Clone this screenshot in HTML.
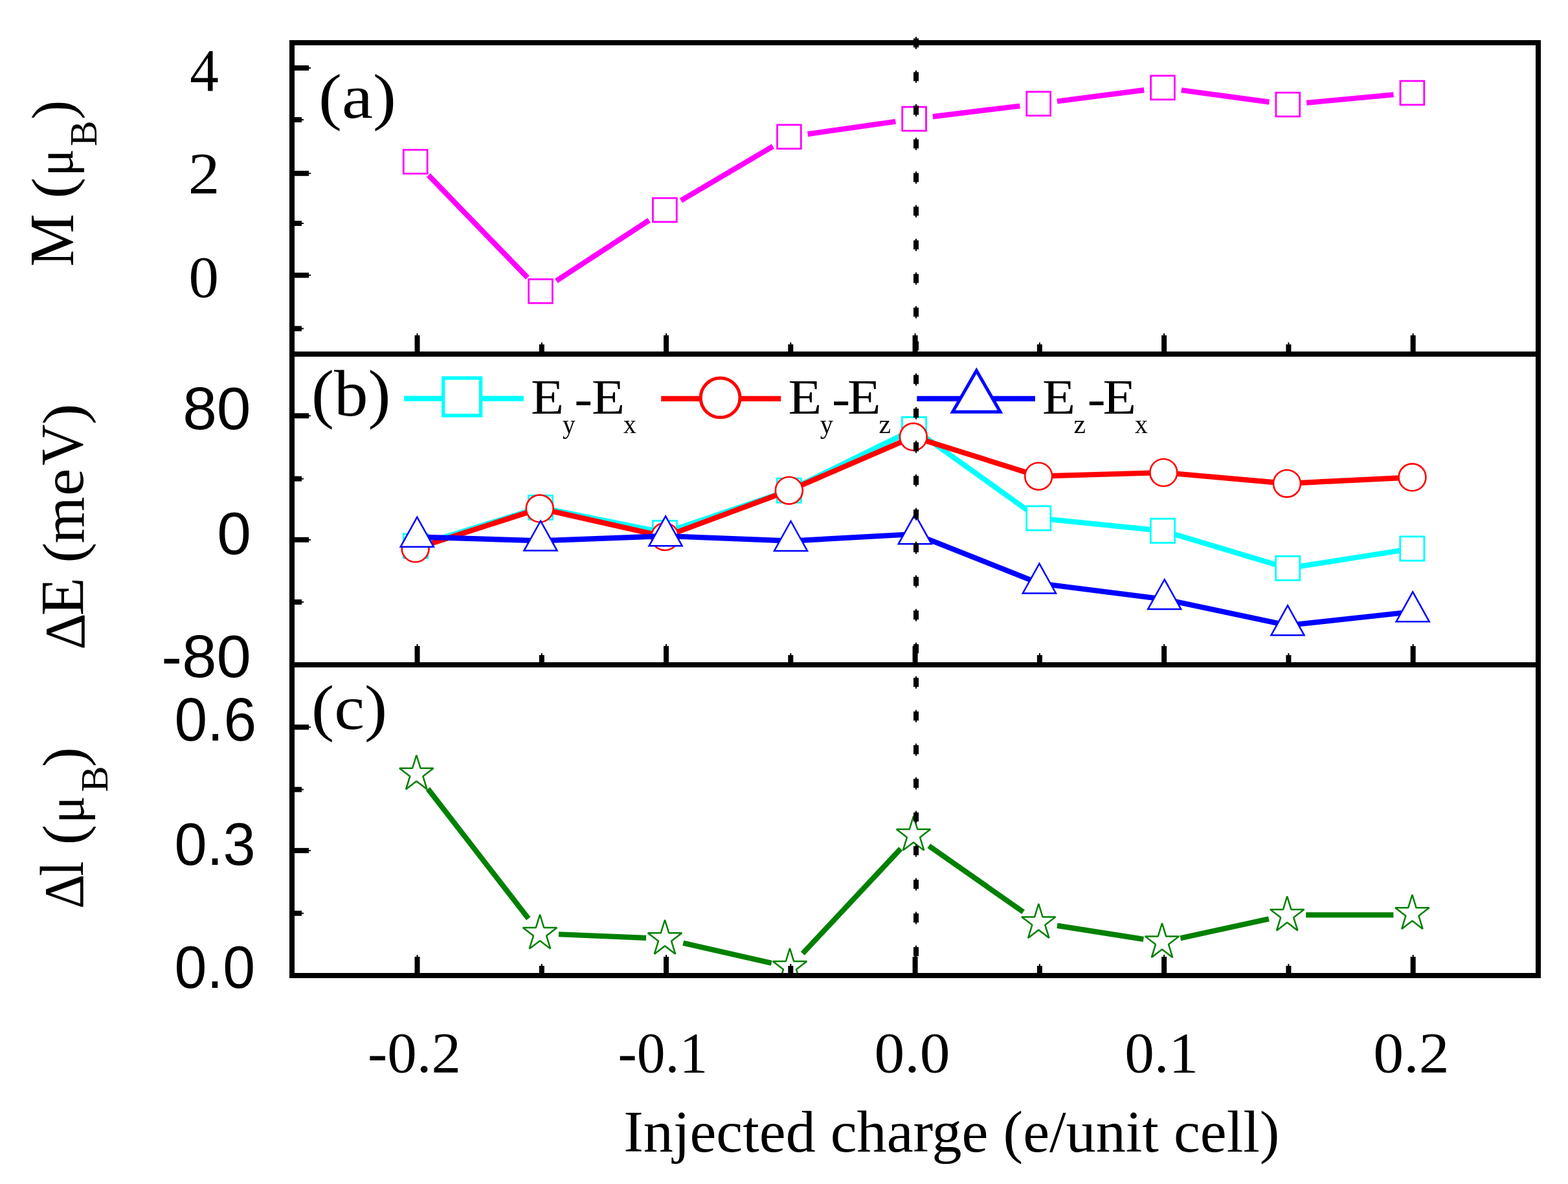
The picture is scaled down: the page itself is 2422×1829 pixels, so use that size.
<!DOCTYPE html><html><head><meta charset="utf-8"><title>Injected charge plot</title><style>html,body{margin:0;padding:0;background:#fff;overflow:hidden}svg{display:block}</style></head><body><svg width="2422" height="1829" viewBox="0 0 2422 1829">
<defs><clipPath id="cc"><rect x="451" y="1027" width="1925" height="480"/></clipPath></defs>
<rect x="0" y="0" width="2422" height="1829" fill="#fff"/>
<path d="M661.85,270.65L814.85,428.95" stroke="#ff00ff" stroke-width="8.20" fill="none"/>
<path d="M859.28,433.94L1002.62,340.26" stroke="#ff00ff" stroke-width="8.20" fill="none"/>
<path d="M1051.89,309.68L1193.91,226.02" stroke="#ff00ff" stroke-width="8.20" fill="none"/>
<path d="M1247.61,207.18L1383.39,187.72" stroke="#ff00ff" stroke-width="8.20" fill="none"/>
<path d="M1440.89,180.09L1575.41,163.71" stroke="#ff00ff" stroke-width="8.20" fill="none"/>
<path d="M1632.96,156.48L1767.24,139.12" stroke="#ff00ff" stroke-width="8.20" fill="none"/>
<path d="M1824.74,139.28L1960.56,157.62" stroke="#ff00ff" stroke-width="8.20" fill="none"/>
<path d="M2018.17,158.79L2152.53,146.21" stroke="#ff00ff" stroke-width="8.20" fill="none"/>
<rect x="623.30" y="231.40" width="36.80" height="36.80" fill="none" stroke="#ff00ff" stroke-width="2.8"/>
<rect x="816.60" y="431.40" width="36.80" height="36.80" fill="none" stroke="#ff00ff" stroke-width="2.8"/>
<rect x="1008.50" y="306.00" width="36.80" height="36.80" fill="none" stroke="#ff00ff" stroke-width="2.8"/>
<rect x="1200.50" y="192.90" width="36.80" height="36.80" fill="none" stroke="#ff00ff" stroke-width="2.8"/>
<rect x="1393.70" y="165.20" width="36.80" height="36.80" fill="none" stroke="#ff00ff" stroke-width="2.8"/>
<rect x="1585.80" y="141.80" width="36.80" height="36.80" fill="none" stroke="#ff00ff" stroke-width="2.8"/>
<rect x="1777.60" y="117.00" width="36.80" height="36.80" fill="none" stroke="#ff00ff" stroke-width="2.8"/>
<rect x="1970.90" y="143.10" width="36.80" height="36.80" fill="none" stroke="#ff00ff" stroke-width="2.8"/>
<rect x="2163.00" y="125.10" width="36.80" height="36.80" fill="none" stroke="#ff00ff" stroke-width="2.8"/>
<path d="M642.00,843.50L835.00,784.00" stroke="#00ffff" stroke-width="8.20" fill="none" stroke-linecap="round"/>
<path d="M835.00,784.00L1026.80,823.00" stroke="#00ffff" stroke-width="8.20" fill="none" stroke-linecap="round"/>
<path d="M1026.80,823.00L1218.80,757.70" stroke="#00ffff" stroke-width="8.20" fill="none" stroke-linecap="round"/>
<path d="M1218.80,757.70L1412.00,663.00" stroke="#00ffff" stroke-width="8.20" fill="none" stroke-linecap="round"/>
<path d="M1412.00,663.00L1604.20,800.50" stroke="#00ffff" stroke-width="8.20" fill="none" stroke-linecap="round"/>
<path d="M1604.20,800.50L1796.00,819.90" stroke="#00ffff" stroke-width="8.20" fill="none" stroke-linecap="round"/>
<path d="M1796.00,819.90L1989.20,877.80" stroke="#00ffff" stroke-width="8.20" fill="none" stroke-linecap="round"/>
<path d="M1989.20,877.80L2181.30,847.50" stroke="#00ffff" stroke-width="8.20" fill="none" stroke-linecap="round"/>
<rect x="623.40" y="824.90" width="37.20" height="37.20" fill="#fff" stroke="#00ffff" stroke-width="2.8"/>
<rect x="816.40" y="765.40" width="37.20" height="37.20" fill="#fff" stroke="#00ffff" stroke-width="2.8"/>
<rect x="1008.20" y="804.40" width="37.20" height="37.20" fill="#fff" stroke="#00ffff" stroke-width="2.8"/>
<rect x="1200.20" y="739.10" width="37.20" height="37.20" fill="#fff" stroke="#00ffff" stroke-width="2.8"/>
<rect x="1393.40" y="644.40" width="37.20" height="37.20" fill="#fff" stroke="#00ffff" stroke-width="2.8"/>
<rect x="1585.60" y="781.90" width="37.20" height="37.20" fill="#fff" stroke="#00ffff" stroke-width="2.8"/>
<rect x="1777.40" y="801.30" width="37.20" height="37.20" fill="#fff" stroke="#00ffff" stroke-width="2.8"/>
<rect x="1970.60" y="859.20" width="37.20" height="37.20" fill="#fff" stroke="#00ffff" stroke-width="2.8"/>
<rect x="2162.70" y="828.90" width="37.20" height="37.20" fill="#fff" stroke="#00ffff" stroke-width="2.8"/>
<path d="M641.60,847.30L833.70,785.60" stroke="#ff0000" stroke-width="8.20" fill="none" stroke-linecap="round"/>
<path d="M833.70,785.60L1027.00,829.00" stroke="#ff0000" stroke-width="8.20" fill="none" stroke-linecap="round"/>
<path d="M1027.00,829.00L1218.80,757.70" stroke="#ff0000" stroke-width="8.20" fill="none" stroke-linecap="round"/>
<path d="M1218.80,757.70L1410.80,674.80" stroke="#ff0000" stroke-width="8.20" fill="none" stroke-linecap="round"/>
<path d="M1410.80,674.80L1604.20,735.70" stroke="#ff0000" stroke-width="8.20" fill="none" stroke-linecap="round"/>
<path d="M1604.20,735.70L1797.30,730.00" stroke="#ff0000" stroke-width="8.20" fill="none" stroke-linecap="round"/>
<path d="M1797.30,730.00L1987.90,746.90" stroke="#ff0000" stroke-width="8.20" fill="none" stroke-linecap="round"/>
<path d="M1987.90,746.90L2181.50,737.30" stroke="#ff0000" stroke-width="8.20" fill="none" stroke-linecap="round"/>
<circle cx="641.60" cy="847.30" r="20.95" fill="#fff" stroke="#ff0000" stroke-width="2.6"/>
<circle cx="833.70" cy="785.60" r="20.95" fill="#fff" stroke="#ff0000" stroke-width="2.6"/>
<circle cx="1027.00" cy="829.00" r="20.95" fill="#fff" stroke="#ff0000" stroke-width="2.6"/>
<circle cx="1218.80" cy="757.70" r="20.95" fill="#fff" stroke="#ff0000" stroke-width="2.6"/>
<circle cx="1410.80" cy="674.80" r="20.95" fill="#fff" stroke="#ff0000" stroke-width="2.6"/>
<circle cx="1604.20" cy="735.70" r="20.95" fill="#fff" stroke="#ff0000" stroke-width="2.6"/>
<circle cx="1797.30" cy="730.00" r="20.95" fill="#fff" stroke="#ff0000" stroke-width="2.6"/>
<circle cx="1987.90" cy="746.90" r="20.95" fill="#fff" stroke="#ff0000" stroke-width="2.6"/>
<circle cx="2181.50" cy="737.30" r="20.95" fill="#fff" stroke="#ff0000" stroke-width="2.6"/>
<path d="M644.30,829.40L835.00,835.30" stroke="#0000ff" stroke-width="8.20" fill="none" stroke-linecap="round"/>
<path d="M835.00,835.30L1028.10,828.00" stroke="#0000ff" stroke-width="8.20" fill="none" stroke-linecap="round"/>
<path d="M1028.10,828.00L1221.50,835.60" stroke="#0000ff" stroke-width="8.20" fill="none" stroke-linecap="round"/>
<path d="M1221.50,835.60L1413.30,825.00" stroke="#0000ff" stroke-width="8.20" fill="none" stroke-linecap="round"/>
<path d="M1413.30,825.00L1605.40,901.20" stroke="#0000ff" stroke-width="8.20" fill="none" stroke-linecap="round"/>
<path d="M1605.40,901.20L1798.70,925.80" stroke="#0000ff" stroke-width="8.20" fill="none" stroke-linecap="round"/>
<path d="M1798.70,925.80L1989.00,966.00" stroke="#0000ff" stroke-width="8.20" fill="none" stroke-linecap="round"/>
<path d="M1989.00,966.00L2182.20,945.00" stroke="#0000ff" stroke-width="8.20" fill="none" stroke-linecap="round"/>
<path d="M644.30,798.80L669.85,844.70L618.75,844.70Z" fill="#fff" stroke="#0000ff" stroke-width="2.5" stroke-linejoin="miter"/>
<path d="M835.00,804.70L860.55,850.60L809.45,850.60Z" fill="#fff" stroke="#0000ff" stroke-width="2.5" stroke-linejoin="miter"/>
<path d="M1028.10,797.40L1053.65,843.30L1002.55,843.30Z" fill="#fff" stroke="#0000ff" stroke-width="2.5" stroke-linejoin="miter"/>
<path d="M1221.50,805.00L1247.05,850.90L1195.95,850.90Z" fill="#fff" stroke="#0000ff" stroke-width="2.5" stroke-linejoin="miter"/>
<path d="M1413.30,794.40L1438.85,840.30L1387.75,840.30Z" fill="#fff" stroke="#0000ff" stroke-width="2.5" stroke-linejoin="miter"/>
<path d="M1605.40,870.60L1630.95,916.50L1579.85,916.50Z" fill="#fff" stroke="#0000ff" stroke-width="2.5" stroke-linejoin="miter"/>
<path d="M1798.70,895.20L1824.25,941.10L1773.15,941.10Z" fill="#fff" stroke="#0000ff" stroke-width="2.5" stroke-linejoin="miter"/>
<path d="M1989.00,935.40L2014.55,981.30L1963.45,981.30Z" fill="#fff" stroke="#0000ff" stroke-width="2.5" stroke-linejoin="miter"/>
<path d="M2182.20,914.40L2207.75,960.30L2156.65,960.30Z" fill="#fff" stroke="#0000ff" stroke-width="2.5" stroke-linejoin="miter"/>
<path d="M624.1,615.6H808.9" stroke="#00ffff" stroke-width="8.2"/>
<rect x="684.70" y="584.00" width="57.90" height="57.90" fill="#fff" stroke="#00ffff" stroke-width="5.4"/>
<path d="M1021.2,615.9H1206.2" stroke="#ff0000" stroke-width="8.2"/>
<circle cx="1112.60" cy="614.45" r="30.40" fill="#fff" stroke="#ff0000" stroke-width="5"/>
<path d="M1416.3,615.85H1598.9" stroke="#0000ff" stroke-width="8.2"/>
<path d="M1508.30,572.60L1545.02,636.20L1471.58,636.20Z" fill="#fff" stroke="#0000ff" stroke-width="5" stroke-linejoin="miter"/>
<path d="M661.05,1218.63L816.25,1419.07" stroke="#008000" stroke-width="8.20" fill="none" clip-path="url(#cc)"/>
<path d="M862.97,1443.23L998.03,1448.97" stroke="#008000" stroke-width="8.20" fill="none" clip-path="url(#cc)"/>
<path d="M1055.28,1456.63L1191.72,1487.67" stroke="#008000" stroke-width="8.20" fill="none" clip-path="url(#cc)"/>
<path d="M1239.82,1472.93L1391.18,1311.17" stroke="#008000" stroke-width="8.20" fill="none" clip-path="url(#cc)"/>
<path d="M1434.75,1306.64L1580.55,1408.76" stroke="#008000" stroke-width="8.20" fill="none" clip-path="url(#cc)"/>
<path d="M1632.95,1429.91L1766.35,1450.89" stroke="#008000" stroke-width="8.20" fill="none" clip-path="url(#cc)"/>
<path d="M1823.34,1449.24L1959.86,1419.56" stroke="#008000" stroke-width="8.20" fill="none" clip-path="url(#cc)"/>
<path d="M2017.20,1413.40L2152.40,1413.40" stroke="#008000" stroke-width="8.20" fill="none" clip-path="url(#cc)"/>
<path d="M643.30,1166.50L649.50,1186.68L669.55,1186.68L653.33,1199.15L659.52,1219.32L643.30,1206.85L627.08,1219.32L633.27,1199.15L617.05,1186.68L637.10,1186.68Z" fill="none" stroke="#008000" stroke-width="2.5" stroke-linejoin="bevel" clip-path="url(#cc)"/>
<path d="M834.00,1412.80L840.20,1432.98L860.25,1432.98L844.03,1445.45L850.22,1465.62L834.00,1453.15L817.78,1465.62L823.97,1445.45L807.75,1432.98L827.80,1432.98Z" fill="none" stroke="#008000" stroke-width="2.5" stroke-linejoin="bevel" clip-path="url(#cc)"/>
<path d="M1027.00,1421.00L1033.20,1441.18L1053.25,1441.18L1037.03,1453.65L1043.22,1473.82L1027.00,1461.35L1010.78,1473.82L1016.97,1453.65L1000.75,1441.18L1020.80,1441.18Z" fill="none" stroke="#008000" stroke-width="2.5" stroke-linejoin="bevel" clip-path="url(#cc)"/>
<path d="M1220.00,1464.90L1226.20,1485.08L1246.25,1485.08L1230.03,1497.55L1236.22,1517.72L1220.00,1505.25L1203.78,1517.72L1209.97,1497.55L1193.75,1485.08L1213.80,1485.08Z" fill="none" stroke="#008000" stroke-width="2.5" stroke-linejoin="bevel" clip-path="url(#cc)"/>
<path d="M1411.00,1260.80L1417.20,1280.98L1437.25,1280.98L1421.03,1293.45L1427.22,1313.62L1411.00,1301.15L1394.78,1313.62L1400.97,1293.45L1384.75,1280.98L1404.80,1280.98Z" fill="none" stroke="#008000" stroke-width="2.5" stroke-linejoin="bevel" clip-path="url(#cc)"/>
<path d="M1604.30,1396.20L1610.50,1416.38L1630.55,1416.38L1614.33,1428.85L1620.52,1449.02L1604.30,1436.55L1588.08,1449.02L1594.27,1428.85L1578.05,1416.38L1598.10,1416.38Z" fill="none" stroke="#008000" stroke-width="2.5" stroke-linejoin="bevel" clip-path="url(#cc)"/>
<path d="M1795.00,1426.20L1801.20,1446.38L1821.25,1446.38L1805.03,1458.85L1811.22,1479.02L1795.00,1466.55L1778.78,1479.02L1784.97,1458.85L1768.75,1446.38L1788.80,1446.38Z" fill="none" stroke="#008000" stroke-width="2.5" stroke-linejoin="bevel" clip-path="url(#cc)"/>
<path d="M1988.20,1384.70L1994.40,1404.88L2014.45,1404.88L1998.23,1417.35L2004.42,1437.52L1988.20,1425.05L1971.98,1437.52L1978.17,1417.35L1961.95,1404.88L1982.00,1404.88Z" fill="none" stroke="#008000" stroke-width="2.5" stroke-linejoin="bevel" clip-path="url(#cc)"/>
<path d="M2181.40,1382.10L2187.60,1402.28L2207.65,1402.28L2191.43,1414.75L2197.62,1434.92L2181.40,1422.45L2165.18,1434.92L2171.37,1414.75L2155.15,1402.28L2175.20,1402.28Z" fill="none" stroke="#008000" stroke-width="2.5" stroke-linejoin="bevel" clip-path="url(#cc)"/>
<rect x="447.00" y="62.00" width="8.00" height="1449.00" fill="#000"/>
<rect x="2372.00" y="62.00" width="8.00" height="1449.00" fill="#000"/>
<rect x="447.00" y="62.00" width="1933.00" height="8.00" fill="#000"/>
<rect x="447.00" y="1503.00" width="1933.00" height="8.00" fill="#000"/>
<rect x="447.00" y="543.00" width="1933.00" height="8.00" fill="#000"/>
<rect x="447.00" y="1023.00" width="1933.00" height="8.00" fill="#000"/>
<rect x="455.00" y="101.00" width="22.00" height="8.00" fill="#000"/>
<rect x="477.00" y="104.00" width="3.00" height="2.00" fill="#000"/>
<rect x="455.00" y="263.80" width="22.00" height="8.00" fill="#000"/>
<rect x="477.00" y="266.80" width="3.00" height="2.00" fill="#000"/>
<rect x="455.00" y="421.20" width="22.00" height="8.00" fill="#000"/>
<rect x="477.00" y="424.20" width="3.00" height="2.00" fill="#000"/>
<rect x="455.00" y="181.00" width="11.00" height="8.00" fill="#000"/>
<rect x="466.00" y="184.00" width="3.00" height="2.00" fill="#000"/>
<rect x="455.00" y="341.00" width="11.00" height="8.00" fill="#000"/>
<rect x="466.00" y="344.00" width="3.00" height="2.00" fill="#000"/>
<rect x="455.00" y="503.60" width="11.00" height="8.00" fill="#000"/>
<rect x="466.00" y="506.60" width="3.00" height="2.00" fill="#000"/>
<rect x="455.00" y="638.30" width="22.00" height="8.00" fill="#000"/>
<rect x="477.00" y="641.30" width="3.00" height="2.00" fill="#000"/>
<rect x="455.00" y="829.80" width="22.00" height="8.00" fill="#000"/>
<rect x="477.00" y="832.80" width="3.00" height="2.00" fill="#000"/>
<rect x="455.00" y="735.60" width="11.00" height="8.00" fill="#000"/>
<rect x="466.00" y="738.60" width="3.00" height="2.00" fill="#000"/>
<rect x="455.00" y="926.00" width="11.00" height="8.00" fill="#000"/>
<rect x="466.00" y="929.00" width="3.00" height="2.00" fill="#000"/>
<rect x="455.00" y="1119.30" width="22.00" height="8.00" fill="#000"/>
<rect x="477.00" y="1122.30" width="3.00" height="2.00" fill="#000"/>
<rect x="455.00" y="1309.90" width="22.00" height="8.00" fill="#000"/>
<rect x="477.00" y="1312.90" width="3.00" height="2.00" fill="#000"/>
<rect x="455.00" y="1215.60" width="11.00" height="8.00" fill="#000"/>
<rect x="466.00" y="1218.60" width="3.00" height="2.00" fill="#000"/>
<rect x="455.00" y="1406.80" width="11.00" height="8.00" fill="#000"/>
<rect x="466.00" y="1409.80" width="3.00" height="2.00" fill="#000"/>
<rect x="640.50" y="518.00" width="8.00" height="25.00" fill="#000"/>
<rect x="643.50" y="515.00" width="2.00" height="3.00" fill="#000"/>
<rect x="832.77" y="532.00" width="8.00" height="11.00" fill="#000"/>
<rect x="835.77" y="529.00" width="2.00" height="3.00" fill="#000"/>
<rect x="1025.04" y="518.00" width="8.00" height="25.00" fill="#000"/>
<rect x="1028.04" y="515.00" width="2.00" height="3.00" fill="#000"/>
<rect x="1217.31" y="532.00" width="8.00" height="11.00" fill="#000"/>
<rect x="1220.31" y="529.00" width="2.00" height="3.00" fill="#000"/>
<rect x="1409.58" y="518.00" width="8.00" height="25.00" fill="#000"/>
<rect x="1412.58" y="515.00" width="2.00" height="3.00" fill="#000"/>
<rect x="1601.85" y="532.00" width="8.00" height="11.00" fill="#000"/>
<rect x="1604.85" y="529.00" width="2.00" height="3.00" fill="#000"/>
<rect x="1794.12" y="518.00" width="8.00" height="25.00" fill="#000"/>
<rect x="1797.12" y="515.00" width="2.00" height="3.00" fill="#000"/>
<rect x="1986.39" y="532.00" width="8.00" height="11.00" fill="#000"/>
<rect x="1989.39" y="529.00" width="2.00" height="3.00" fill="#000"/>
<rect x="2178.66" y="518.00" width="8.00" height="25.00" fill="#000"/>
<rect x="2181.66" y="515.00" width="2.00" height="3.00" fill="#000"/>
<rect x="640.50" y="998.00" width="8.00" height="25.00" fill="#000"/>
<rect x="643.50" y="995.00" width="2.00" height="3.00" fill="#000"/>
<rect x="832.77" y="1012.00" width="8.00" height="11.00" fill="#000"/>
<rect x="835.77" y="1009.00" width="2.00" height="3.00" fill="#000"/>
<rect x="1025.04" y="998.00" width="8.00" height="25.00" fill="#000"/>
<rect x="1028.04" y="995.00" width="2.00" height="3.00" fill="#000"/>
<rect x="1217.31" y="1012.00" width="8.00" height="11.00" fill="#000"/>
<rect x="1220.31" y="1009.00" width="2.00" height="3.00" fill="#000"/>
<rect x="1409.58" y="998.00" width="8.00" height="25.00" fill="#000"/>
<rect x="1412.58" y="995.00" width="2.00" height="3.00" fill="#000"/>
<rect x="1601.85" y="1012.00" width="8.00" height="11.00" fill="#000"/>
<rect x="1604.85" y="1009.00" width="2.00" height="3.00" fill="#000"/>
<rect x="1794.12" y="998.00" width="8.00" height="25.00" fill="#000"/>
<rect x="1797.12" y="995.00" width="2.00" height="3.00" fill="#000"/>
<rect x="1986.39" y="1012.00" width="8.00" height="11.00" fill="#000"/>
<rect x="1989.39" y="1009.00" width="2.00" height="3.00" fill="#000"/>
<rect x="2178.66" y="998.00" width="8.00" height="25.00" fill="#000"/>
<rect x="2181.66" y="995.00" width="2.00" height="3.00" fill="#000"/>
<rect x="640.50" y="1478.00" width="8.00" height="25.00" fill="#000"/>
<rect x="643.50" y="1475.00" width="2.00" height="3.00" fill="#000"/>
<rect x="832.77" y="1492.00" width="8.00" height="11.00" fill="#000"/>
<rect x="835.77" y="1489.00" width="2.00" height="3.00" fill="#000"/>
<rect x="1025.04" y="1478.00" width="8.00" height="25.00" fill="#000"/>
<rect x="1028.04" y="1475.00" width="2.00" height="3.00" fill="#000"/>
<rect x="1217.31" y="1492.00" width="8.00" height="11.00" fill="#000"/>
<rect x="1220.31" y="1489.00" width="2.00" height="3.00" fill="#000"/>
<rect x="1409.58" y="1478.00" width="8.00" height="25.00" fill="#000"/>
<rect x="1412.58" y="1475.00" width="2.00" height="3.00" fill="#000"/>
<rect x="1601.85" y="1492.00" width="8.00" height="11.00" fill="#000"/>
<rect x="1604.85" y="1489.00" width="2.00" height="3.00" fill="#000"/>
<rect x="1794.12" y="1478.00" width="8.00" height="25.00" fill="#000"/>
<rect x="1797.12" y="1475.00" width="2.00" height="3.00" fill="#000"/>
<rect x="1986.39" y="1492.00" width="8.00" height="11.00" fill="#000"/>
<rect x="1989.39" y="1489.00" width="2.00" height="3.00" fill="#000"/>
<rect x="2178.66" y="1478.00" width="8.00" height="25.00" fill="#000"/>
<rect x="2181.66" y="1475.00" width="2.00" height="3.00" fill="#000"/>
<rect x="1411.00" y="59.35" width="8.00" height="14.00" fill="#000"/>
<rect x="1414.00" y="56.85" width="2.00" height="19.00" fill="#000"/>
<rect x="1411.00" y="111.34" width="8.00" height="14.00" fill="#000"/>
<rect x="1414.00" y="108.84" width="2.00" height="19.00" fill="#000"/>
<rect x="1411.00" y="163.33" width="8.00" height="14.00" fill="#000"/>
<rect x="1414.00" y="160.83" width="2.00" height="19.00" fill="#000"/>
<rect x="1411.00" y="215.32" width="8.00" height="14.00" fill="#000"/>
<rect x="1414.00" y="212.82" width="2.00" height="19.00" fill="#000"/>
<rect x="1411.00" y="267.31" width="8.00" height="14.00" fill="#000"/>
<rect x="1414.00" y="264.81" width="2.00" height="19.00" fill="#000"/>
<rect x="1411.00" y="319.30" width="8.00" height="14.00" fill="#000"/>
<rect x="1414.00" y="316.80" width="2.00" height="19.00" fill="#000"/>
<rect x="1411.00" y="371.29" width="8.00" height="14.00" fill="#000"/>
<rect x="1414.00" y="368.79" width="2.00" height="19.00" fill="#000"/>
<rect x="1411.00" y="423.28" width="8.00" height="14.00" fill="#000"/>
<rect x="1414.00" y="420.78" width="2.00" height="19.00" fill="#000"/>
<rect x="1411.00" y="475.27" width="8.00" height="14.00" fill="#000"/>
<rect x="1414.00" y="472.77" width="2.00" height="19.00" fill="#000"/>
<rect x="1411.00" y="527.26" width="8.00" height="14.00" fill="#000"/>
<rect x="1414.00" y="524.76" width="2.00" height="19.00" fill="#000"/>
<rect x="1411.00" y="579.25" width="8.00" height="14.00" fill="#000"/>
<rect x="1414.00" y="576.75" width="2.00" height="19.00" fill="#000"/>
<rect x="1411.00" y="631.24" width="8.00" height="14.00" fill="#000"/>
<rect x="1414.00" y="628.74" width="2.00" height="19.00" fill="#000"/>
<rect x="1411.00" y="683.23" width="8.00" height="14.00" fill="#000"/>
<rect x="1414.00" y="680.73" width="2.00" height="19.00" fill="#000"/>
<rect x="1411.00" y="735.22" width="8.00" height="14.00" fill="#000"/>
<rect x="1414.00" y="732.72" width="2.00" height="19.00" fill="#000"/>
<rect x="1411.00" y="787.21" width="8.00" height="14.00" fill="#000"/>
<rect x="1414.00" y="784.71" width="2.00" height="19.00" fill="#000"/>
<rect x="1411.00" y="839.20" width="8.00" height="14.00" fill="#000"/>
<rect x="1414.00" y="836.70" width="2.00" height="19.00" fill="#000"/>
<rect x="1411.00" y="891.19" width="8.00" height="14.00" fill="#000"/>
<rect x="1414.00" y="888.69" width="2.00" height="19.00" fill="#000"/>
<rect x="1411.00" y="943.18" width="8.00" height="14.00" fill="#000"/>
<rect x="1414.00" y="940.68" width="2.00" height="19.00" fill="#000"/>
<rect x="1411.00" y="995.17" width="8.00" height="14.00" fill="#000"/>
<rect x="1414.00" y="992.67" width="2.00" height="19.00" fill="#000"/>
<rect x="1411.00" y="1047.16" width="8.00" height="14.00" fill="#000"/>
<rect x="1414.00" y="1044.66" width="2.00" height="19.00" fill="#000"/>
<rect x="1411.00" y="1099.15" width="8.00" height="14.00" fill="#000"/>
<rect x="1414.00" y="1096.65" width="2.00" height="19.00" fill="#000"/>
<rect x="1411.00" y="1151.14" width="8.00" height="14.00" fill="#000"/>
<rect x="1414.00" y="1148.64" width="2.00" height="19.00" fill="#000"/>
<rect x="1411.00" y="1203.13" width="8.00" height="14.00" fill="#000"/>
<rect x="1414.00" y="1200.63" width="2.00" height="19.00" fill="#000"/>
<rect x="1411.00" y="1255.12" width="8.00" height="14.00" fill="#000"/>
<rect x="1414.00" y="1252.62" width="2.00" height="19.00" fill="#000"/>
<rect x="1411.00" y="1307.11" width="8.00" height="14.00" fill="#000"/>
<rect x="1414.00" y="1304.61" width="2.00" height="19.00" fill="#000"/>
<rect x="1411.00" y="1359.10" width="8.00" height="14.00" fill="#000"/>
<rect x="1414.00" y="1356.60" width="2.00" height="19.00" fill="#000"/>
<rect x="1411.00" y="1411.09" width="8.00" height="14.00" fill="#000"/>
<rect x="1414.00" y="1408.59" width="2.00" height="19.00" fill="#000"/>
<rect x="1411.00" y="1463.08" width="8.00" height="14.00" fill="#000"/>
<rect x="1414.00" y="1460.58" width="2.00" height="19.00" fill="#000"/>
<text transform="translate(293.32,139.67) scale(0.8925,0.9400)" font-family="'Liberation Serif', 'Times New Roman', serif" font-size="100">4</text>
<text transform="translate(290.71,299.00) scale(0.9750,0.9152)" font-family="'Liberation Serif', 'Times New Roman', serif" font-size="100">2</text>
<text transform="translate(291.39,459.09) scale(0.9286,0.9126)" font-family="'Liberation Serif', 'Times New Roman', serif" font-size="100">0</text>
<text transform="translate(282.14,662.77) scale(0.9476,0.9268)" font-family="'Liberation Sans', Arial, sans-serif" font-size="100">80</text>
<text transform="translate(335.21,855.68) scale(0.9474,0.9239)" font-family="'Liberation Sans', Arial, sans-serif" font-size="100">0</text>
<text transform="translate(249.18,1046.07) scale(0.9596,0.9310)" font-family="'Liberation Sans', Arial, sans-serif" font-size="100">-80</text>
<text transform="translate(269.46,1143.56) scale(0.9111,0.9380)" font-family="'Liberation Sans', Arial, sans-serif" font-size="100">0.6</text>
<text transform="translate(269.50,1336.27) scale(0.9004,0.9324)" font-family="'Liberation Sans', Arial, sans-serif" font-size="100">0.3</text>
<text transform="translate(269.51,1526.07) scale(0.8969,0.9310)" font-family="'Liberation Sans', Arial, sans-serif" font-size="100">0.0</text>
<text transform="translate(568.01,1656.25) scale(0.9101,0.8971)" font-family="'Liberation Serif', 'Times New Roman', serif" font-size="100">-0.2</text>
<text transform="translate(954.53,1656.25) scale(0.8768,0.8971)" font-family="'Liberation Serif', 'Times New Roman', serif" font-size="100">-0.1</text>
<text transform="translate(1350.46,1655.85) scale(0.9359,0.8971)" font-family="'Liberation Serif', 'Times New Roman', serif" font-size="100">0.0</text>
<text transform="translate(1737.15,1655.85) scale(0.9122,0.8971)" font-family="'Liberation Serif', 'Times New Roman', serif" font-size="100">0.1</text>
<text transform="translate(2121.24,1655.85) scale(0.9394,0.8971)" font-family="'Liberation Serif', 'Times New Roman', serif" font-size="100">0.2</text>
<text transform="translate(963.18,1778.51) scale(0.9210,0.8994)" font-family="'Liberation Serif', 'Times New Roman', serif" font-size="100">Injected charge (e/unit cell)</text>
<text transform="translate(492.03,182.07) scale(1.0814,0.9778)" font-family="'Liberation Serif', 'Times New Roman', serif" font-size="100">(a)</text>
<text transform="translate(481.07,642.24) scale(1.0502,1.0078)" font-family="'Liberation Serif', 'Times New Roman', serif" font-size="100">(b)</text>
<text transform="translate(481.05,1126.34) scale(1.0549,0.9744)" font-family="'Liberation Serif', 'Times New Roman', serif" font-size="100">(c)</text>
<text transform="translate(819.99,639.20) scale(0.8358,0.7542)" font-family="'Liberation Serif', 'Times New Roman', serif" font-size="100">E</text>
<text transform="translate(869.11,669.01) scale(0.3918,0.4045)" font-family="'Liberation Serif', 'Times New Roman', serif" font-size="100">y</text>
<text transform="translate(913.99,639.20) scale(0.8358,0.7542)" font-family="'Liberation Serif', 'Times New Roman', serif" font-size="100">E</text>
<text transform="translate(963.10,669.40) scale(0.3958,0.4176)" font-family="'Liberation Serif', 'Times New Roman', serif" font-size="100">x</text>
<text transform="translate(1217.56,639.20) scale(0.8472,0.7542)" font-family="'Liberation Serif', 'Times New Roman', serif" font-size="100">E</text>
<text transform="translate(1266.70,669.01) scale(0.4041,0.4045)" font-family="'Liberation Serif', 'Times New Roman', serif" font-size="100">y</text>
<text transform="translate(1309.07,639.20) scale(0.8434,0.7542)" font-family="'Liberation Serif', 'Times New Roman', serif" font-size="100">E</text>
<text transform="translate(1357.56,669.40) scale(0.4179,0.4130)" font-family="'Liberation Serif', 'Times New Roman', serif" font-size="100">z</text>
<text transform="translate(1609.99,639.20) scale(0.8358,0.7542)" font-family="'Liberation Serif', 'Times New Roman', serif" font-size="100">E</text>
<text transform="translate(1658.46,669.40) scale(0.4179,0.4130)" font-family="'Liberation Serif', 'Times New Roman', serif" font-size="100">z</text>
<text transform="translate(1703.57,639.20) scale(0.8434,0.7542)" font-family="'Liberation Serif', 'Times New Roman', serif" font-size="100">E</text>
<text transform="translate(1753.10,669.40) scale(0.3958,0.4176)" font-family="'Liberation Serif', 'Times New Roman', serif" font-size="100">x</text>
<text transform="translate(112.60,412.06) rotate(-90) scale(0.9193,0.9662)" font-family="'Liberation Serif', 'Times New Roman', serif" font-size="100">M</text>
<text transform="translate(112.44,306.83) rotate(-90) scale(0.9843,0.9078)" font-family="'Liberation Serif', 'Times New Roman', serif" font-size="100">(</text>
<text transform="translate(112.23,272.54) rotate(-90) scale(0.7928,0.8224)" font-family="'Liberation Serif', 'Times New Roman', serif" font-size="100">μ</text>
<text transform="translate(148.60,226.08) rotate(-90) scale(0.5932,0.5893)" font-family="'Liberation Serif', 'Times New Roman', serif" font-size="100">B</text>
<text transform="translate(112.44,184.80) rotate(-90) scale(0.9000,0.9078)" font-family="'Liberation Serif', 'Times New Roman', serif" font-size="100">)</text>
<text transform="translate(129.50,1003.80) rotate(-90) scale(0.8761,0.8855)" font-family="'Liberation Serif', 'Times New Roman', serif" font-size="100">Δ</text>
<text transform="translate(128.70,951.32) rotate(-90) scale(0.9717,0.9496)" font-family="'Liberation Serif', 'Times New Roman', serif" font-size="100">E</text>
<text transform="translate(129.21,869.71) rotate(-90) scale(0.9569,0.9089)" font-family="'Liberation Serif', 'Times New Roman', serif" font-size="100">(</text>
<text transform="translate(128.70,839.56) rotate(-90) scale(0.9284,0.9319)" font-family="'Liberation Serif', 'Times New Roman', serif" font-size="100">m</text>
<text transform="translate(127.79,766.12) rotate(-90) scale(0.9541,0.9125)" font-family="'Liberation Serif', 'Times New Roman', serif" font-size="100">e</text>
<text transform="translate(127.30,719.08) rotate(-90) scale(0.8800,0.9353)" font-family="'Liberation Serif', 'Times New Roman', serif" font-size="100">V</text>
<text transform="translate(129.21,655.70) rotate(-90) scale(0.9654,0.9089)" font-family="'Liberation Serif', 'Times New Roman', serif" font-size="100">)</text>
<text transform="translate(128.10,1404.02) rotate(-90) scale(0.8301,0.8626)" font-family="'Liberation Serif', 'Times New Roman', serif" font-size="100">Δ</text>
<text transform="translate(128.10,1353.47) rotate(-90) scale(0.8375,0.9435)" font-family="'Liberation Serif', 'Times New Roman', serif" font-size="100">l</text>
<text transform="translate(129.19,1305.34) rotate(-90) scale(0.9412,0.9100)" font-family="'Liberation Serif', 'Times New Roman', serif" font-size="100">(</text>
<text transform="translate(128.63,1271.94) rotate(-90) scale(0.7928,0.8224)" font-family="'Liberation Serif', 'Times New Roman', serif" font-size="100">μ</text>
<text transform="translate(165.50,1223.41) rotate(-90) scale(0.6017,0.5847)" font-family="'Liberation Serif', 'Times New Roman', serif" font-size="100">B</text>
<text transform="translate(129.19,1185.07) rotate(-90) scale(0.9231,0.9100)" font-family="'Liberation Serif', 'Times New Roman', serif" font-size="100">)</text>
<text transform="translate(887.36,640.76) scale(0.8358,0.7542)" font-family="'Liberation Serif', 'Times New Roman', serif" font-size="100">-</text>
<text transform="translate(1284.92,640.76) scale(0.8472,0.7542)" font-family="'Liberation Serif', 'Times New Roman', serif" font-size="100">-</text>
<text transform="translate(1679.86,640.76) scale(0.8358,0.7542)" font-family="'Liberation Serif', 'Times New Roman', serif" font-size="100">-</text>
</svg></body></html>
